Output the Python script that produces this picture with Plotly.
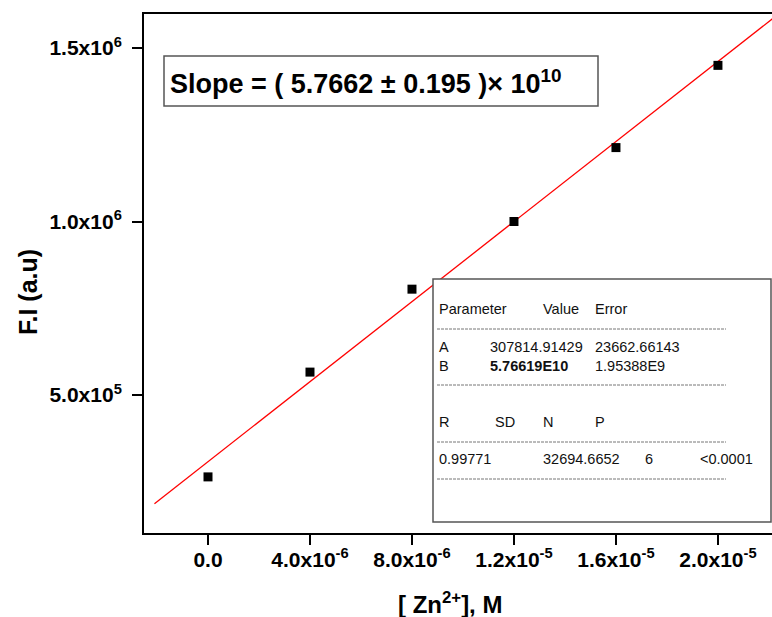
import plotly.graph_objects as go

# ---- data ----
conc_M = [0.0, 4.0e-6, 8.0e-6, 1.2e-5, 1.6e-5, 2.0e-5]
fluor_int = [2.64e5, 5.66e5, 8.05e5, 1.0e6, 1.213e6, 1.45e6]

fit_A = 307814.91429
fit_B = 5.76619e10
fit_x_span = [-2.1e-6, 2.4e-5]

x_tick_vals = [0.0, 4.0e-6, 8.0e-6, 1.2e-5, 1.6e-5, 2.0e-5]
x_tick_text = ["0.0", "4.0x10<sup>-6</sup>", "8.0x10<sup>-6</sup>",
               "1.2x10<sup>-5</sup>", "1.6x10<sup>-5</sup>", "2.0x10<sup>-5</sup>"]
y_tick_vals = [5.0e5, 1.0e6, 1.5e6]
y_tick_text = ["5.0x10<sup>5</sup>", "1.0x10<sup>6</sup>", "1.5x10<sup>6</sup>"]

table_rows = [
    # (text, x_px_left, y_px_center, bold)
    ("Parameter", 437, 309, False), ("Value", 541, 309, False), ("Error", 593, 309, False),
    ("A", 437, 347, False), ("307814.91429", 488, 347, False), ("23662.66143", 593, 347, False),
    ("B", 437, 366, False), ("5.76619E10", 488, 366, True), ("1.95388E9", 593, 366, False),
    ("R", 437, 422, False), ("SD", 493, 422, False), ("N", 541, 422, False), ("P", 593, 422, False),
    ("0.99771", 437, 459, False), ("32694.6652", 541, 459, False), ("6", 643, 459, False),
    ("<0.0001", 698, 459, False),
]
table_dash_rows = [329, 385, 442, 479]

W, H = 772, 617
ML, MR, MT, MB = 144, 0, 14, 84
PW, PH = W - ML - MR, H - MT - MB
FONT = "Liberation Sans, Arial, sans-serif"


def px(xp):
    return (xp - ML) / PW


def py(yp):
    return (H - MB - yp) / PH


fit_y = [fit_A + fit_B * x for x in fit_x_span]

fig = go.Figure()
fig.add_trace(go.Scatter(x=fit_x_span, y=fit_y, mode="lines",
                         line=dict(color="#ff0000", width=1.3), showlegend=False,
                         hoverinfo="skip"))
fig.add_trace(go.Scatter(x=conc_M, y=fluor_int, mode="markers",
                         marker=dict(symbol="square", size=9, color="black"),
                         showlegend=False))

shapes = []
# slope box
shapes.append(dict(type="rect", xref="paper", yref="paper",
                   x0=px(164), x1=px(598), y0=py(106), y1=py(56),
                   line=dict(color="#555555", width=1.5), fillcolor="white", layer="above"))
# fit table box
shapes.append(dict(type="rect", xref="paper", yref="paper",
                   x0=px(433), x1=px(771), y0=py(522), y1=py(279),
                   line=dict(color="#555555", width=1.5), fillcolor="white", layer="above"))
for yd in table_dash_rows:
    shapes.append(dict(type="line", xref="paper", yref="paper",
                       x0=px(437), x1=px(726), y0=py(yd), y1=py(yd),
                       line=dict(color="#777777", width=1, dash="3px,1px"), layer="above"))

annotations = []
annotations.append(dict(xref="paper", yref="paper", x=px(168), y=py(82),
                        xanchor="left", yanchor="middle", showarrow=False,
                        text="Slope = ( 5.7662 ± 0.195 )× 10<sup>10</sup>",
                        font=dict(family=FONT, size=27, color="black", weight="bold")))
for text, xl, yc, bold in table_rows:
    annotations.append(dict(xref="paper", yref="paper", x=px(xl), y=py(yc),
                            xanchor="left", yanchor="middle", showarrow=False,
                            text=text.replace("<", "&lt;"),
                            font=dict(family=FONT, size=14.5, color="#111111",
                                      weight="bold" if bold else "normal")))
annotations.append(dict(xref="paper", yref="paper", x=px(450), y=py(603),
                        xanchor="center", yanchor="middle", showarrow=False,
                        text="[ Zn<sup>2+</sup>], M",
                        font=dict(family=FONT, size=24, color="black", weight="bold")))
annotations.append(dict(xref="paper", yref="paper", x=px(28), y=py(292),
                        xanchor="center", yanchor="middle", showarrow=False, textangle=-90,
                        text="F.I (a.u)",
                        font=dict(family=FONT, size=25, color="black", weight="bold")))

fig.update_layout(
    width=W, height=H,
    margin=dict(l=ML, r=MR, t=MT, b=MB, pad=0),
    paper_bgcolor="white", plot_bgcolor="white",
    shapes=shapes, annotations=annotations,
    font=dict(family=FONT, color="black"),
    xaxis=dict(range=[-2.51e-6, 2.212e-5], tickvals=x_tick_vals, ticktext=x_tick_text,
               showgrid=False, zeroline=False, showline=True, linecolor="black", linewidth=2,
               mirror=True, ticks="outside", ticklen=10, tickwidth=2, tickcolor="black",
               ticklabelstandoff=-3,
               tickfont=dict(family=FONT, size=21, color="black", weight="bold")),
    yaxis=dict(range=[1.023e5, 1.598e6], tickvals=y_tick_vals, ticktext=y_tick_text,
               showgrid=False, zeroline=False, showline=True, linecolor="black", linewidth=2,
               mirror=False, ticks="outside", ticklen=10, tickwidth=2, tickcolor="black",
               ticklabelstandoff=6,
               tickfont=dict(family=FONT, size=21, color="black", weight="bold")),
)

fig.write_html("out.html", config={"displayModeBar": False},
               post_script="document.body.style.margin='0';document.body.style.overflow='hidden';")
